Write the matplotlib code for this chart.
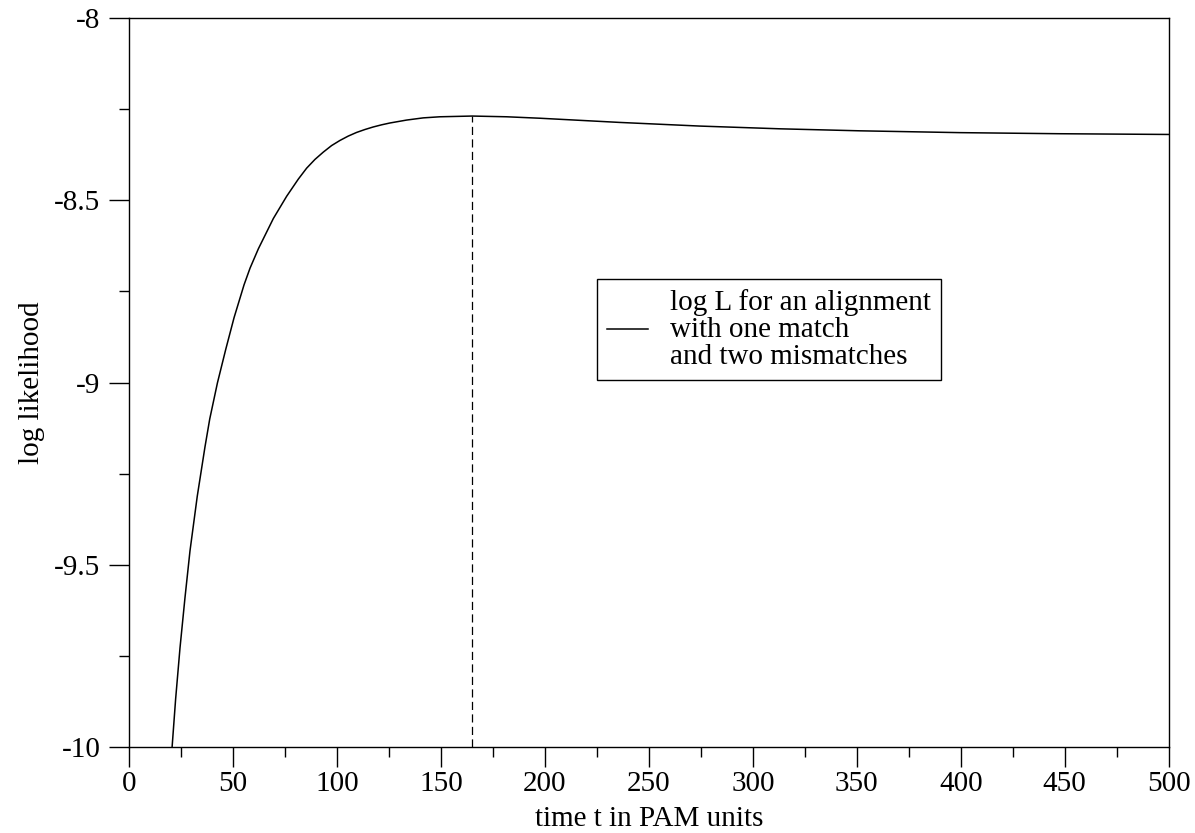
import numpy as np
import matplotlib
matplotlib.use("Agg")
import matplotlib.pyplot as plt
from matplotlib.ticker import MultipleLocator, FormatStrFormatter

plt.rcParams["font.family"] = ["Liberation Serif", "DejaVu Serif"]
plt.rcParams["axes.unicode_minus"] = False

# log likelihood vs. evolutionary time (PAM units)
t_pam = [20.7, 22.4, 24.5, 26.9, 29.3, 32.8, 36.5, 38.8, 42.5, 46.5, 50.5,
         55.3, 58.2, 62.2, 69.4, 75.8, 81.4, 85.4, 89.4, 93.4, 97.4, 101.4,
         105.4, 109.4, 113.4, 117.4, 121.5, 125.5, 133.5, 141.5, 149.5,
         165.0, 181.6, 197.6, 236.0, 274.5, 313.0, 351.4, 399.5, 447.6,
         500.0]
log_lik = [-10.000, -9.868, -9.728, -9.590, -9.462, -9.312, -9.177, -9.100,
           -9.001, -8.909, -8.822, -8.732, -8.686, -8.633, -8.550, -8.489,
           -8.442, -8.412, -8.388, -8.368, -8.350, -8.336, -8.324, -8.314,
           -8.306, -8.299, -8.293, -8.288, -8.280, -8.274, -8.271, -8.269,
           -8.271, -8.275, -8.2865, -8.2965, -8.304, -8.3095, -8.3145,
           -8.3175, -8.3195]

legend_label = "log L for an alignment\nwith one match\nand two mismatches"

fig = plt.figure(figsize=(11.95, 8.33), dpi=100)
ax = fig.add_axes([0.108, 0.1032, 0.870, 0.8752])

ax.plot(t_pam, log_lik, color="black", lw=1.1, label=legend_label)

# mark the maximum likelihood time
i_max = int(np.argmax(log_lik))
ax.vlines(t_pam[i_max], -10, log_lik[i_max], colors="black", lw=0.9,
          linestyles=(0, (6.5, 3.5)))

ax.set_xlim(0, 500)
ax.set_ylim(-10, -8)
ax.xaxis.set_major_locator(MultipleLocator(50))
ax.xaxis.set_minor_locator(MultipleLocator(25))
ax.yaxis.set_major_locator(MultipleLocator(0.5))
ax.yaxis.set_minor_locator(MultipleLocator(0.25))
ax.yaxis.set_major_formatter(FormatStrFormatter("%g"))

ax.tick_params(which="major", direction="out", length=14.5, width=1.0,
               labelsize=21, top=False, right=False)
ax.tick_params(which="minor", direction="out", length=7.5, width=1.0,
               top=False, right=False)
ax.tick_params(axis="x", which="major", pad=3)
ax.tick_params(axis="y", which="major", pad=6)
for s in ax.spines.values():
    s.set_linewidth(1.0)

ax.set_xlabel("time t in PAM units", fontsize=21, labelpad=6)
ax.set_ylabel("log likelihood", fontsize=21, labelpad=7)

leg = ax.legend(loc="upper left", bbox_to_anchor=(0.45, 0.642), fontsize=21,
                frameon=True, fancybox=False, edgecolor="black", framealpha=1,
                handlelength=1.4, handletextpad=0.75, borderpad=0.35,
                borderaxespad=0)
leg.get_frame().set_linewidth(1.0)
for txt in leg.get_texts():
    txt.set_linespacing(1.05)

fig.savefig("out.png", dpi=100)
